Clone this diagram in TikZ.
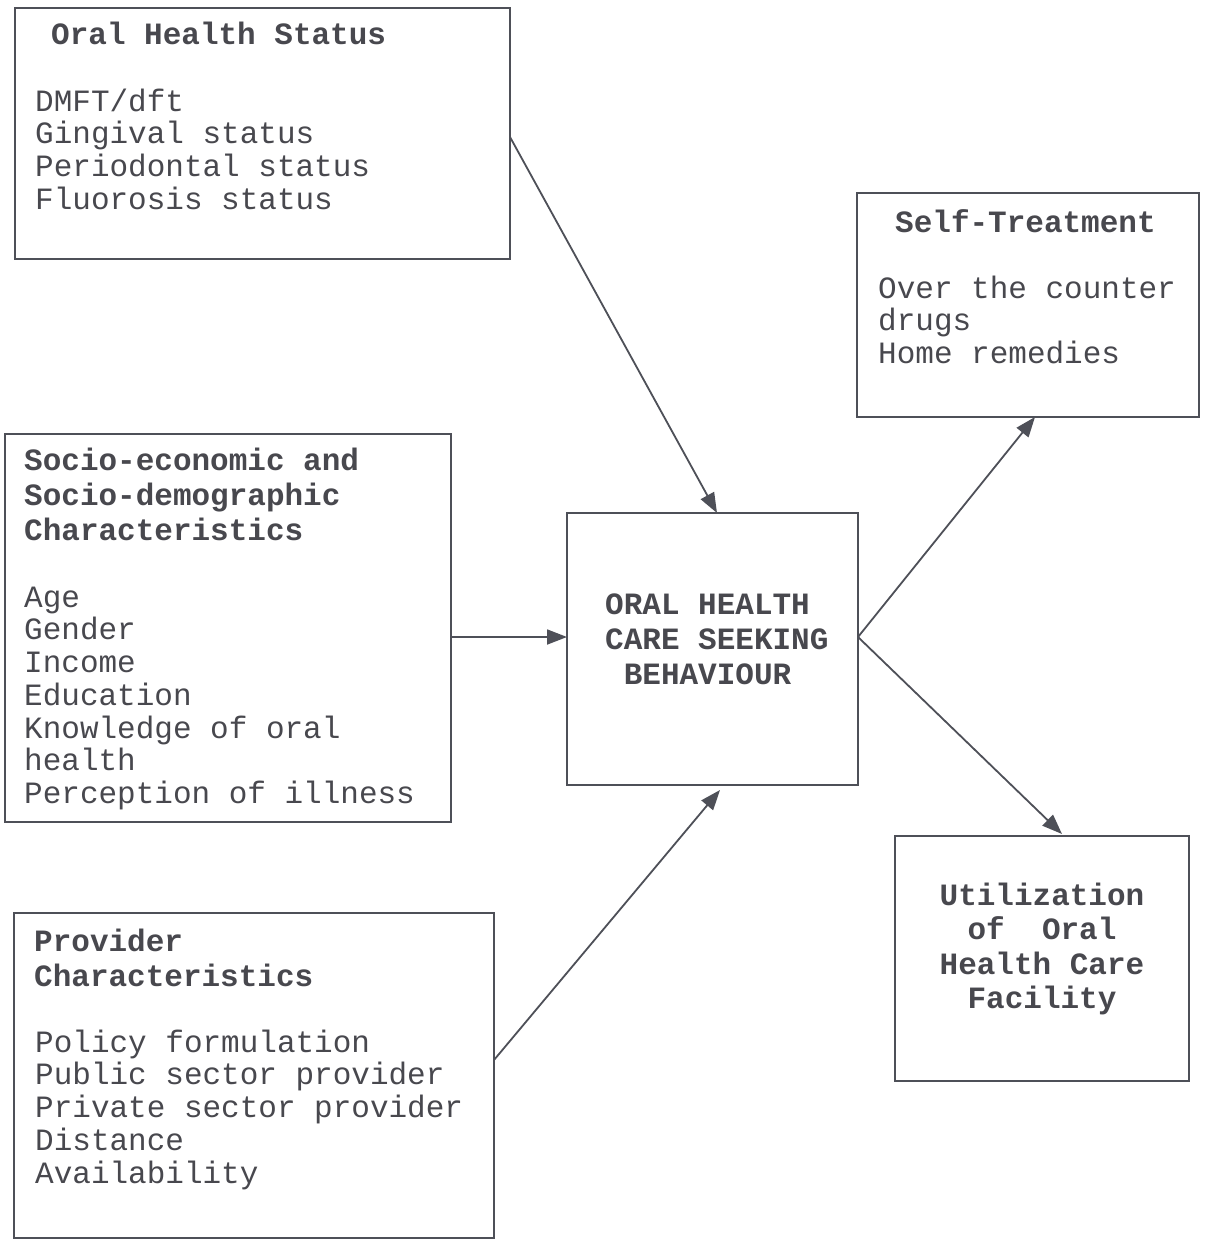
\documentclass[tikz,border=0pt]{standalone}
\usepackage{fontspec}
\setmonofont{Liberation Mono}
\usetikzlibrary{arrows.meta}
\definecolor{linec}{RGB}{78,80,88}
\definecolor{textc}{RGB}{72,72,78}
\tikzset{
  box/.style={draw=linec, line width=1.8pt, inner sep=0pt, outer sep=0pt, fill=none},
  reg/.style={text=textc, inner sep=0pt, anchor=north west, align=left,
    font={\ttfamily\fontsize{31}{32.7}\selectfont}},
  hd/.style={text=textc, inner sep=0pt, anchor=north west, align=left,
    font={\ttfamily\bfseries\fontsize{31}{35}\selectfont}},
  hdc/.style={hd, anchor=north, align=center, font={\ttfamily\bfseries\fontsize{31}{34.5}\selectfont}},
  arr/.style={draw=linec, line width=1.8pt, -{Triangle[length=20pt,width=15pt]}}
}
\newcommand{\st}{\rule{0pt}{28pt}}
\begin{document}
\begin{tikzpicture}[x=1pt,y=-1pt]
\fill[white] (0,0) rectangle (1205,1239);
\useasboundingbox (0,0) rectangle (1205,1239);

% boxes
\node[box, minimum width=495pt, minimum height=251pt] (a) at (262.5,133.5) {};
\node[box, minimum width=446pt, minimum height=388pt] (b) at (228,628) {};
\node[box, minimum width=480pt, minimum height=325pt] (c) at (254,1075.5) {};
\node[box, minimum width=291pt, minimum height=272pt] (m) at (712.5,649) {};
\node[box, minimum width=342pt, minimum height=224pt] (s) at (1028,305) {};
\node[box, minimum width=294pt, minimum height=245pt] (u) at (1042,958.5) {};

% texts
\node[hd] (ah) at (51,16) {\st Oral Health Status};
\node[reg] (ab) at (35,83) {\st DMFT/dft\\Gingival status\\Periodontal status\\Fluorosis status};

\node[hd] (bh) at (24,442) {\st Socio-economic and\\Socio-demographic\\Characteristics};
\node[reg] (bb) at (24,579) {\st Age\\Gender\\Income\\Education\\Knowledge of oral\\health\\Perception of illness};

\node[hd] (ch) at (34,923) {\st Provider\\Characteristics};
\node[reg] (cb) at (35,1024) {\st Policy formulation\\Public sector provider\\Private sector provider\\Distance\\Availability};

\node[hd] (mt) at (605,586) {\st ORAL HEALTH\\CARE SEEKING\\\hspace*{18.6pt}BEHAVIOUR};

\node[hd] (sh) at (895,204) {\st Self-Treatment};
\node[reg] (sb) at (878,270) {\st Over the counter\\drugs\\Home remedies};

\node[hdc] (ut) at (1042,877) {\st Utilization\\of\ \ Oral\\Health Care\\Facility};

% connectors
\draw[arr] ([yshift=-3.5pt]a.east) -- ([xshift=4.5pt]m.north);
\draw[arr] ([yshift=-9pt]b.east) -- ([yshift=12pt]m.west);
\draw[arr] ([yshift=15.5pt]c.east) -- ([xshift=7.5pt,yshift=-5pt]m.south);
\draw[arr] ([yshift=12pt]m.east) -- ([xshift=7pt]s.south);
\draw[arr] ([yshift=12pt]m.east) -- ([xshift=20pt,yshift=2pt]u.north);
\end{tikzpicture}
\end{document}
